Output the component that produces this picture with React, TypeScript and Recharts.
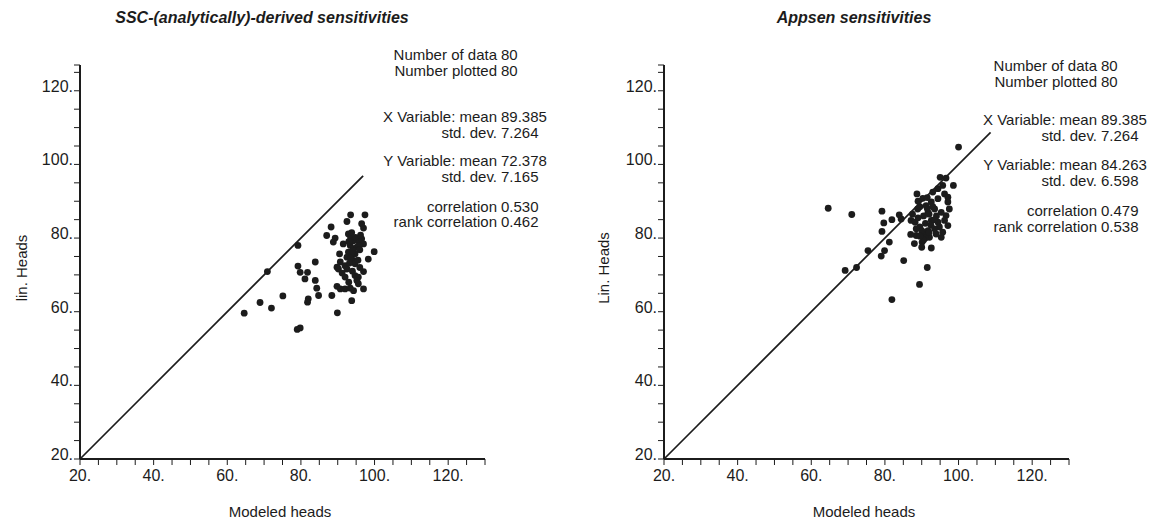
import React from 'react';
import { ScatterChart, Scatter, XAxis, YAxis, ReferenceLine } from 'recharts';

const FONT = 'Arial, "Liberation Sans", Helvetica, sans-serif';
const INK = '#1c1c1c';

// SSC-(analytically)-derived sensitivities: modeled heads vs linearized heads
const sscModeled = [
  79.2, 70.9, 79.2, 83.9, 79.8, 81.8, 81.1, 83.9, 84.3, 75.1, 68.9, 72.0, 64.6, 82.0, 81.8, 84.8, 79.0, 79.8,
  93.5, 97.4, 92.5, 96.5, 97.0, 88.2, 87.0, 89.3, 88.8, 92.9, 93.5, 94.3, 95.6, 96.5, 97.0, 91.5, 93.4, 94.3,
  95.2, 99.9, 92.9, 93.8, 94.7, 90.5, 98.3, 92.5, 94.3, 94.7, 90.7, 89.8, 90.2, 92.0, 92.5, 97.0, 94.7, 95.6,
  95.2, 92.0, 95.6, 97.0, 89.8, 90.7, 92.0, 93.4, 94.3, 88.4, 93.8, 89.9,
  93.8, 94.8, 93.0, 95.8, 94.0, 96.0, 93.5, 95.5, 93.2, 96.0, 94.0, 91.2, 93.0, 96.2,
];
const sscLin = [
  78.0, 70.9, 72.4, 73.5, 70.7, 70.7, 68.9, 68.5, 66.4, 64.3, 62.5, 61.0, 59.6, 63.5, 62.6, 64.4, 55.2, 55.6,
  86.3, 86.3, 84.5, 83.9, 82.7, 83.0, 80.7, 80.0, 78.9, 81.1, 80.0, 79.3, 79.3, 79.8, 78.4, 78.4, 78.0, 77.1,
  77.5, 76.3, 76.2, 75.2, 75.7, 75.7, 74.3, 74.8, 73.9, 73.0, 73.5, 72.1, 71.6, 72.5, 71.6, 70.9, 69.8, 69.4,
  68.5, 69.4, 67.6, 66.2, 66.9, 66.2, 66.2, 66.4, 65.7, 64.4, 63.0, 59.7,
  81.5, 80.2, 79.0, 78.0, 76.5, 76.8, 74.5, 74.0, 73.2, 72.0, 71.0, 70.5, 68.0, 80.8,
];

// Appsen sensitivities
const appsenModeled = [
  100.0, 64.6, 71.0, 79.2, 79.7, 79.2, 81.9, 83.9, 84.4, 75.4, 81.2, 79.9, 79.0, 69.2, 72.3, 85.1, 91.5, 89.4,
  81.9, 98.6, 95.0, 96.6, 88.7, 90.3, 87.1, 88.2, 88.9, 88.5, 90.1, 92.6, 95.3,
  91.2, 92.6, 94.4, 96.2, 97.1, 97.5, 96.6, 95.3, 93.5, 91.7, 92.6, 94.4, 96.2, 94.8, 93.5, 91.7, 90.3, 90.7,
  92.1, 93.9, 95.7, 94.4, 95.7, 97.1, 97.1, 93.0,
  90.5, 91.0, 89.5, 92.0, 91.5, 90.0, 92.5, 89.0, 91.0, 93.0, 90.5, 89.5, 92.0, 88.5, 91.5, 94.0, 89.0, 87.5,
  90.0, 93.5, 88.0, 87.0, 89.5,
];
const appsenLin = [
  104.7, 88.1, 86.4, 87.3, 84.1, 81.8, 85.0, 86.3, 85.2, 76.6, 78.9, 76.6, 75.1, 71.2, 72.0, 73.9, 72.0, 67.4,
  63.3, 94.3, 96.5, 96.3, 92.0, 90.8, 84.8, 84.3, 87.9, 80.7, 78.9, 77.3, 80.2,
  88.8, 89.8, 90.7, 92.0, 89.8, 87.9, 86.1, 87.0, 87.9, 87.0, 84.8, 84.3, 84.8, 83.0, 82.5, 82.0, 81.6, 80.7,
  80.2, 81.1, 81.6, 93.4, 94.3, 91.1, 83.4, 92.5,
  86.0, 84.0, 83.0, 86.5, 88.0, 82.0, 83.5, 85.5, 80.0, 88.5, 79.5, 88.5, 81.5, 82.5, 91.0, 86.0, 90.0, 86.5,
  77.5, 85.0, 78.5, 81.0, 80.5,
];

// end of the 1:1 line in each panel
const sscLineEnd = 96.9;
const appsenLineEnd = 108.7;

const statLabels = [
  'Number of data', 'Number plotted', 'X Variable: mean', 'std. dev.',
  'Y Variable: mean', 'std. dev.', 'correlation', 'rank correlation',
];
const sscStats = ['80', '80', '89.385', '7.264', '72.378', '7.165', '0.530', '0.462'];
const appsenStats = ['80', '80', '89.385', '7.264', '84.263', '6.598', '0.479', '0.538'];

const xTicks = [20, 25, 30, 35, 40, 45, 50, 55, 60, 65, 70, 75, 80, 85, 90, 95, 100, 105, 110, 115, 120, 125, 130];
const yTicks = [20, 25, 30, 35, 40, 45, 50, 55, 60, 65, 70, 75, 80, 85, 90, 95, 100, 105, 110, 115, 120, 125, 127];
const labelledTicks = [20, 40, 60, 80, 100, 120];

const tickText = (v: number) => (labelledTicks.includes(v) ? `${v}.` : '');

const XTick = ({ x, y, payload }: any) => (
  <text x={x} y={y} dy={14} textAnchor="middle" fontSize={16} fontFamily={FONT} fill={INK}>
    {tickText(payload.value)}
  </text>
);

const YTick = ({ x, y, payload }: any) => (
  <text x={x} y={y} dy={1} textAnchor="end" fontSize={16} fontFamily={FONT} fill={INK}>
    {tickText(payload.value)}
  </text>
);

const zip = (xs: number[], ys: number[]) => xs.map((x, i) => ({ x, y: ys[i] }));

const Dot = ({ cx, cy }: any) => <circle cx={cx} cy={cy} r={3.4} fill={INK} />;

interface PanelProps {
  xs: number[];
  ys: number[];
  lineEnd: number;
  width: number;
  marginLeft: number;
  marginRight: number;
}

const Panel: React.FC<PanelProps> = ({ xs, ys, lineEnd, width, marginLeft, marginRight }) => (
  <ScatterChart
    width={width}
    height={523}
    margin={{ top: 65, right: marginRight, left: marginLeft, bottom: 34 }}
  >
    <XAxis
      type="number"
      dataKey="x"
      domain={[20, 130]}
      ticks={xTicks}
      interval={0}
      height={30}
      tickSize={6}
      tickMargin={2}
      tick={<XTick />}
      axisLine={{ stroke: INK, strokeWidth: 2 }}
      tickLine={{ stroke: INK, strokeWidth: 1 }}
      allowDataOverflow
    />
    <YAxis
      type="number"
      dataKey="y"
      domain={[20, 127]}
      ticks={yTicks}
      interval={0}
      width={60}
      tickSize={6}
      tickMargin={1}
      tick={<YTick />}
      axisLine={{ stroke: INK, strokeWidth: 2 }}
      tickLine={{ stroke: INK, strokeWidth: 1 }}
      allowDataOverflow
    />
    <ReferenceLine
      segment={[{ x: 20, y: 20 }, { x: lineEnd, y: lineEnd }]}
      stroke={INK}
      strokeWidth={1.7}
      ifOverflow="visible"
    />
    <Scatter data={zip(xs, ys)} shape={<Dot />} isAnimationActive={false} />
  </ScatterChart>
);

const textBase: React.CSSProperties = {
  position: 'absolute',
  fontFamily: FONT,
  color: INK,
  whiteSpace: 'nowrap',
};

const Stats: React.FC<{ values: string[]; edge: number; rows: number[] }> = ({ values, edge, rows }) => (
  <>
    {statLabels.map((label, i) => (
      <div key={i} style={{ ...textBase, fontSize: 15, lineHeight: '16px', top: rows[i] - 8, left: edge - 300, width: 600 }}>
        <span style={{ display: 'inline-block', width: 300, textAlign: 'right' }}>{label}</span>
        <span style={{ marginLeft: 4 }}>{values[i]}</span>
      </div>
    ))}
  </>
);

const Title: React.FC<{ text: string; cx: number }> = ({ text, cx }) => (
  <div style={{ ...textBase, fontSize: 16, fontWeight: 'bold', fontStyle: 'italic', top: 9, left: cx - 250, width: 500, textAlign: 'center' }}>
    {text}
  </div>
);

const XLabel: React.FC<{ cx: number }> = ({ cx }) => (
  <div style={{ ...textBase, fontSize: 15, top: 503, left: cx - 100, width: 200, textAlign: 'center' }}>
    Modeled heads
  </div>
);

const YLabel: React.FC<{ text: string; cx: number; cy: number }> = ({ text, cx, cy }) => (
  <div
    style={{
      ...textBase, fontSize: 15, top: cy - 9, left: cx - 60, width: 120, height: 18, lineHeight: '18px',
      textAlign: 'center', transform: 'rotate(-90deg)',
    }}
  >
    {text}
  </div>
);

const leftRows = [55, 71, 117, 133, 161, 177, 207, 222];
const rightRows = [66, 82, 120, 136, 165, 181, 211, 227];

export default function App() {
  return (
    <div style={{ position: 'absolute', left: 0, top: 0, width: 1159, height: 523, background: '#fff', overflow: 'hidden' }}>
      <div style={{ position: 'absolute', left: 0, top: 0 }}>
        <Panel xs={sscModeled} ys={sscLin} lineEnd={sscLineEnd} width={580} marginLeft={20} marginRight={95} />
      </div>
      <div style={{ position: 'absolute', left: 580, top: 0 }}>
        <Panel xs={appsenModeled} ys={appsenLin} lineEnd={appsenLineEnd} width={579} marginLeft={24} marginRight={90} />
      </div>
      <Title text="SSC-(analytically)-derived sensitivities" cx={262} />
      <Title text="Appsen sensitivities" cx={854} />
      <Stats values={sscStats} edge={497} rows={leftRows} />
      <Stats values={appsenStats} edge={1097} rows={rightRows} />
      <XLabel cx={280} />
      <XLabel cx={864} />
      <YLabel text="lin. Heads" cx={22} cy={268} />
      <YLabel text="Lin. Heads" cx={604} cy={268} />
    </div>
  );
}
